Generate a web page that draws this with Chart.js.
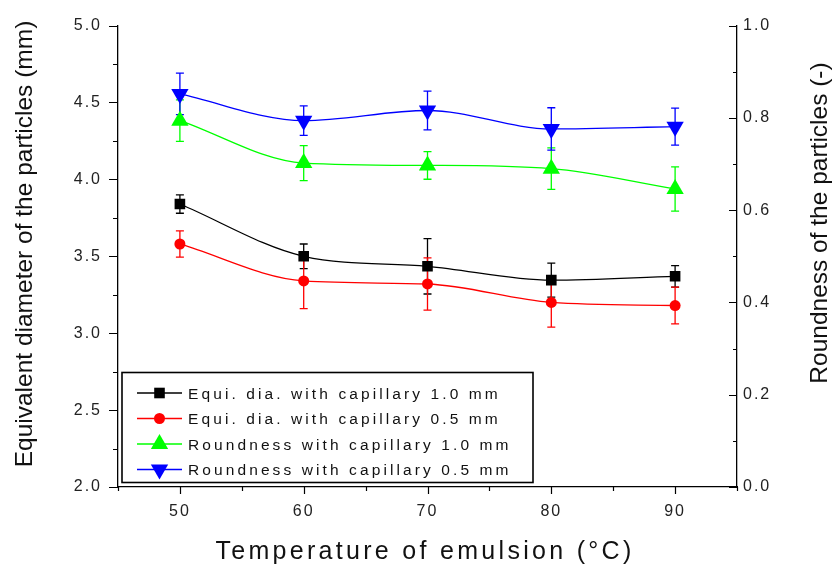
<!DOCTYPE html>
<html>
<head>
<meta charset="utf-8">
<script src="https://cdn.jsdelivr.net/npm/chart.js@4.4.1/dist/chart.umd.min.js"></script>
<style>
  html, body { margin: 0; padding: 0; background: #fff; }
  #chart { display: block; }
</style>
</head>
<body>
<canvas id="chart" width="838" height="568"></canvas>
<script>
// Temperature of emulsion (°C)
const temps = [50, 60, 70, 80, 90];

// equivalent diameter (mm), left axis
const equiDia10    = [3.84, 3.50, 3.435, 3.345, 3.37];
const equiDia10Err = [0.06, 0.08, 0.18, 0.11, 0.07];
const equiDia05    = [3.58, 3.34, 3.32, 3.20, 3.18];
const equiDia05Err = [0.085, 0.18, 0.17, 0.16, 0.12];

// roundness (-), right axis
const round10    = [0.794, 0.702, 0.697, 0.690, 0.646];
const round10Err = [0.045, 0.038, 0.03, 0.045, 0.048];
const round05    = [0.852, 0.794, 0.816, 0.776, 0.781];
const round05Err = [0.045, 0.032, 0.042, 0.046, 0.04];

const xTicks     = [50, 60, 70, 80, 90];
const leftTicks  = [2.0, 2.5, 3.0, 3.5, 4.0, 4.5, 5.0];
const rightTicks = [0.0, 0.2, 0.4, 0.6, 0.8, 1.0];

const FONT = '"Liberation Sans", Arial, sans-serif';

const pts = vals => temps.map((t, i) => ({ x: t, y: vals[i] }));

function series(label, vals, errs, color, style, radius, axis, rotation) {
  return {
    label,
    data: pts(vals),
    errors: errs,
    yAxisID: axis,
    borderColor: color,
    backgroundColor: color,
    borderWidth: 1.3,
    cubicInterpolationMode: 'monotone',
    pointStyle: style,
    pointRadius: radius,
    pointHoverRadius: radius,
    pointBorderWidth: 0,
    pointRotation: rotation || 0,
  };
}

const datasets = [
  series('Equi. dia. with capillary 1.0 mm', equiDia10, equiDia10Err, '#000000', 'rect', 7.5, 'yL'),
  series('Equi. dia. with capillary 0.5 mm', equiDia05, equiDia05Err, '#ff0000', 'circle', 5.5, 'yL'),
  series('Roundness with capillary 1.0 mm', round10, round10Err, '#00ff00', 'triangle', 10, 'yR'),
  series('Roundness with capillary 0.5 mm', round05, round05Err, '#0000ff', 'triangle', 10, 'yR', 180),
];

// error bars, tick marks (major + minor), titles and the boxed legend
const originLook = {
  id: 'originLook',
  beforeDraw(chart) {
    chart.ctx.letterSpacing = '2px';
  },
  beforeDatasetsDraw(chart) {
    const ctx = chart.ctx;
    const xs = chart.scales.x;
    chart.data.datasets.forEach(ds => {
      const ys = chart.scales[ds.yAxisID];
      ctx.save();
      ctx.strokeStyle = ds.borderColor;
      ctx.lineWidth = 1.3;
      ds.data.forEach((p, j) => {
        const e = ds.errors[j];
        const x = xs.getPixelForValue(p.x);
        const y1 = ys.getPixelForValue(p.y + e);
        const y2 = ys.getPixelForValue(p.y - e);
        ctx.beginPath();
        ctx.moveTo(x, y1); ctx.lineTo(x, y2);
        ctx.moveTo(x - 4, y1); ctx.lineTo(x + 4, y1);
        ctx.moveTo(x - 4, y2); ctx.lineTo(x + 4, y2);
        ctx.stroke();
      });
      ctx.restore();
    });
  },
  afterDraw(chart) {
    const ctx = chart.ctx;
    const { left, right, top, bottom } = chart.chartArea;
    const xs = chart.scales.x, yl = chart.scales.yL, yr = chart.scales.yR;

    ctx.save();
    ctx.strokeStyle = '#000';
    ctx.lineWidth = 1.2;
    ctx.beginPath();
    for (let v = 45; v <= 95.001; v += 5) {
      const x = Math.round(xs.getPixelForValue(v)) + 0.5;
      const len = v % 10 === 0 ? 7 : 4;
      ctx.moveTo(x, bottom); ctx.lineTo(x, bottom + len);
    }
    for (let k = 0; k <= 12; k++) {
      const v = 2 + k * 0.25;
      const y = Math.round(yl.getPixelForValue(v)) + 0.5;
      const len = k % 2 === 0 ? 9 : 5;
      ctx.moveTo(left - len, y); ctx.lineTo(left, y);
    }
    for (let k = 0; k <= 10; k++) {
      const y = Math.round(yr.getPixelForValue(k / 10)) + 0.5;
      const len = k % 2 === 0 ? 8 : 4;
      ctx.moveTo(right - len, y); ctx.lineTo(right, y);
    }
    ctx.stroke();

    // axis titles
    ctx.fillStyle = '#111';
    ctx.textAlign = 'center';
    ctx.textBaseline = 'middle';
    ctx.letterSpacing = '3.3px';
    ctx.font = `25px ${FONT}`;
    ctx.fillText('Temperature of emulsion (°C)', 425, 552);

    ctx.letterSpacing = '0px';
    ctx.font = `24.5px ${FONT}`;
    ctx.save();
    ctx.translate(25, 244);
    ctx.rotate(-Math.PI / 2);
    ctx.fillText('Equivalent diameter of the particles (mm)', 0, 0);
    ctx.restore();
    ctx.save();
    ctx.translate(820, 223);
    ctx.rotate(-Math.PI / 2);
    ctx.fillText('Roundness of the particles (-)', 0, 0);
    ctx.restore();

    // legend box
    ctx.lineWidth = 1.6;
    ctx.strokeStyle = '#000';
    ctx.strokeRect(122, 372.5, 411, 110);
    ctx.textAlign = 'left';
    ctx.textBaseline = 'alphabetic';
    ctx.font = `15.5px ${FONT}`;
    ctx.letterSpacing = '3.1px';
    chart.data.datasets.forEach((ds, i) => {
      const y = 393 + i * 25.5;
      ctx.strokeStyle = ds.borderColor;
      ctx.lineWidth = 1.3;
      ctx.beginPath();
      ctx.moveTo(137, y); ctx.lineTo(182, y);
      ctx.stroke();
      ctx.fillStyle = ds.backgroundColor;
      Chart.helpers.drawPoint(ctx, {
        pointStyle: ds.pointStyle,
        rotation: ds.pointRotation,
        radius: ds.pointRadius,
        borderWidth: 0,
      }, 159.5, y);
      ctx.fillStyle = '#111';
      ctx.fillText(ds.label, 188, y + 5.5);
    });
    ctx.restore();
  },
};

const tickFont = { family: FONT, size: 16 };
const noGrid = { display: false, drawTicks: false, tickLength: 0 };

new Chart(document.getElementById('chart'), {
  type: 'line',
  data: { datasets },
  plugins: [originLook],
  options: {
    responsive: false,
    animation: false,
    devicePixelRatio: 1,
    layout: { padding: { top: 25, left: 0, right: 0, bottom: 0 } },
    plugins: { legend: { display: false }, tooltip: { enabled: false } },
    scales: {
      x: {
        type: 'linear',
        min: 45, max: 95,
        afterBuildTicks: s => { s.ticks = xTicks.map(v => ({ value: v })); },
        afterFit: s => { s.height = 81; },
        grid: noGrid,
        border: { display: true, color: '#000', width: 1.3 },
        ticks: { font: tickFont, color: '#222', padding: 15, maxRotation: 0, autoSkip: false },
      },
      yL: {
        type: 'linear',
        position: 'left',
        min: 2, max: 5,
        afterBuildTicks: s => { s.ticks = leftTicks.map(v => ({ value: v })); },
        afterFit: s => { s.width = 118; },
        grid: noGrid,
        border: { display: true, color: '#000', width: 1.3 },
        ticks: { font: tickFont, color: '#222', padding: 16, callback: v => v.toFixed(1) },
      },
      yR: {
        type: 'linear',
        position: 'right',
        min: 0, max: 1,
        afterBuildTicks: s => { s.ticks = rightTicks.map(v => ({ value: v })); },
        afterFit: s => { s.width = 101; },
        grid: noGrid,
        border: { display: true, color: '#000', width: 1.3 },
        ticks: { font: tickFont, color: '#222', padding: 6, callback: v => v.toFixed(1) },
      },
    },
  },
});
</script>
</body>
</html>
